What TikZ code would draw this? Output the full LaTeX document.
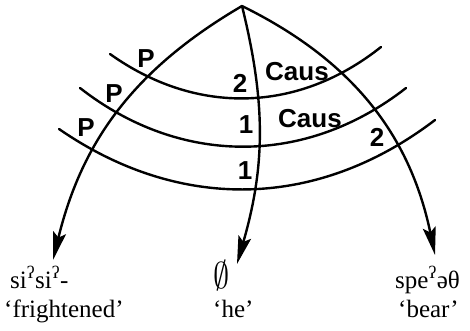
\documentclass[tikz,border=0pt]{standalone}
\usepackage{fontspec}
\usepackage{graphicx}
\setmainfont{Liberation Serif}
\newfontfamily\lblfont{Liberation Sans}
\usetikzlibrary{arrows.meta}
\tikzset{
  ln/.style={line width=2.4pt, line cap=round},
  arr/.style={ln, -{Stealth[length=28pt,width=13pt,inset=5pt]}},
  lbl/.style={font=\lblfont\bfseries\fontsize{26}{28}\selectfont, inner sep=0pt},
  gloss/.style={font=\fontsize{25}{29}\selectfont, inner sep=0pt, anchor=base west}
}
\begin{document}
\begin{tikzpicture}[x=1pt,y=-1pt]
\useasboundingbox (0,0) rectangle (470,331);
% points
\coordinate (apex) at (242,6);
\coordinate (tipL) at (53,260);
\coordinate (tipM) at (237,264);
\coordinate (tipR) at (435,255);
\coordinate (a1L) at (110,54);
\coordinate (a1R) at (381,47);
\coordinate (a2L) at (80,88);
\coordinate (a2R) at (406,88);
\coordinate (a3L) at (59,129);
\coordinate (a3R) at (435,120);
% horizontal arcs
\draw[ln] (a1L) to[bend right=37] (a1R);
\draw[ln] (a2L) to[bend right=38] (a2R);
\draw[ln] (a3L) to[bend right=36] (a3R);
% branches
\draw[arr] (apex) to[bend right=23] (tipL);
\draw[arr] (apex) to[bend left=15] (tipM);
\draw[arr] (apex) to[bend left=26] (tipR);
% labels
\node[lbl] (p1) at (146,59) {P};
\node[lbl] (p2) at (114,94) {P};
\node[lbl] (p3) at (86,128) {P};
\node[lbl] (n2a) at (240,83) {2};
\node[lbl] (c1) at (297,72) {Caus};
\node[lbl] (n1a) at (246,125) {1};
\node[lbl] (c2) at (310,119) {Caus};
\node[lbl] (n2b) at (377,137) {2};
\node[lbl] (n1b) at (245,171) {1};
% glosses
\node[gloss] (w1) at (10,288) {si\textsuperscript{ʔ}si\textsuperscript{ʔ}-};
\node[gloss] (g1) at (4,317) {‘frightened’};
\node[gloss] (w2) at (213,288) {\scalebox{1.3}[1.5]{$\emptyset$}};
\node[gloss] (g2) at (213,317) {‘he’};
\node[gloss] (w3) at (395,288) {spe\textsuperscript{ʔ}əθ};
\node[gloss] (g3) at (398,317) {‘bear’};
\end{tikzpicture}
\end{document}
